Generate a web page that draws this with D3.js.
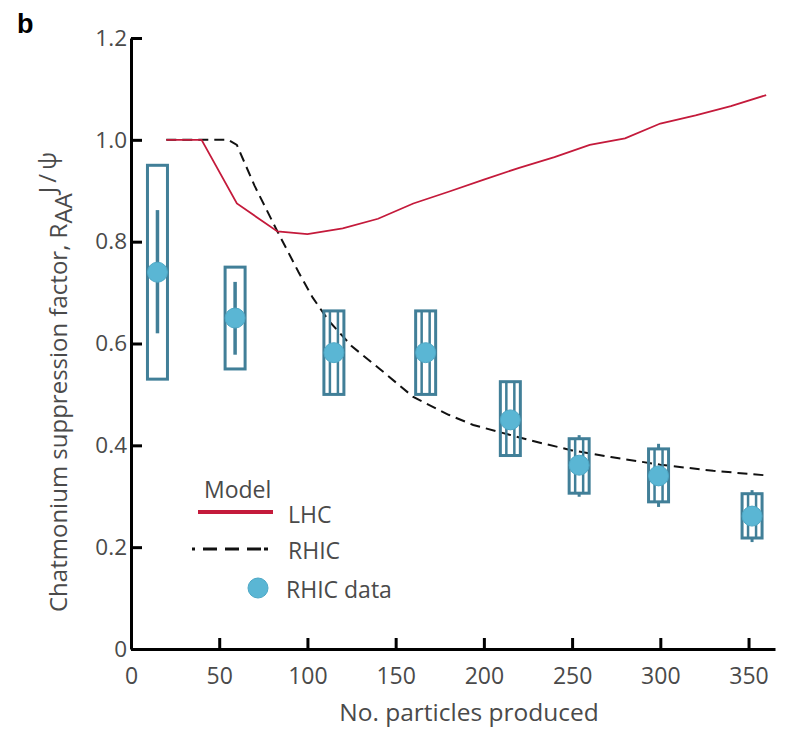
<!DOCTYPE html>
<html>
<head>
<meta charset="utf-8">
<script src="https://cdn.jsdelivr.net/npm/d3@7"></script>
<style>
  html, body { margin: 0; padding: 0; background: #fff; }
  svg { display: block; }
  text { font-family: "Open Sans", "Noto Sans", sans-serif; fill: #4a4a4a; }
</style>
</head>
<body>
<svg id="chart" width="785" height="729"></svg>
<script>
// ---- Data ----
const xTicks = [0, 50, 100, 150, 200, 250, 300, 350];
const yTicks = [0, 0.2, 0.4, 0.6, 0.8, 1.0, 1.2];
const yTickLabels = ["0", "0.2", "0.4", "0.6", "0.8", "1.0", "1.2"];

// Model curves
const lhcX = [20, 40, 60, 83, 100, 120, 140, 160, 180, 200, 220, 240, 260, 280, 300, 320, 340, 360];
const lhcY = [1.0, 1.0, 0.875, 0.82, 0.815, 0.826, 0.845, 0.875, 0.898, 0.922, 0.945, 0.966, 0.99, 1.003, 1.032, 1.048, 1.066, 1.088];
const rhicX = [20, 55, 60, 70, 83, 95, 103, 112, 125, 141, 160, 180, 194, 210, 226, 250, 272, 300, 330, 360];
const rhicY = [1.0, 1.0, 0.99, 0.91, 0.82, 0.74, 0.69, 0.645, 0.595, 0.55, 0.495, 0.46, 0.44, 0.425, 0.41, 0.39, 0.377, 0.362, 0.35, 0.341];

// RHIC data
const dataX    = [15, 59, 115, 167, 215, 254, 299, 352];
const dataY    = [0.74, 0.65, 0.582, 0.582, 0.45, 0.361, 0.34, 0.261];
const sysLow   = [0.53, 0.55, 0.50, 0.50, 0.38, 0.306, 0.289, 0.218];
const sysHigh  = [0.95, 0.75, 0.664, 0.664, 0.525, 0.413, 0.393, 0.305];
const statLow  = [0.62, 0.578, 0.50, 0.50, 0.38, 0.299, 0.279, 0.21];
const statHigh = [0.862, 0.721, 0.664, 0.664, 0.525, 0.42, 0.403, 0.312];

// ---- Layout ----
const svg = d3.select("#chart");
const x = d3.scaleLinear().domain([0, 365]).range([131, 775]);
const y = d3.scaleLinear().domain([0, 1.2]).range([649, 38]);

const teal = "#417f98";
const dotFill = "#5ab6d4";
const red = "#c41a3b";

// Axes
const xAxis = d3.axisBottom(x).tickValues(xTicks).tickSizeInner(-11).tickSizeOuter(0).tickFormat(d3.format("d")).tickPadding(19);
const gx = svg.append("g").attr("transform", `translate(0,${y(0)})`).call(xAxis);
gx.select(".domain").attr("stroke", "#000").attr("stroke-width", 3);
gx.selectAll(".tick line").attr("stroke", "#000").attr("stroke-width", 3);
gx.selectAll(".tick text").style("font-size", "23px").attr("fill", "#4a4a4a")
  .style("font-family", '"Open Sans", sans-serif');

const yAxis = d3.axisLeft(y).tickValues(yTicks).tickSizeInner(-11).tickSizeOuter(0)
  .tickFormat((d, i) => yTickLabels[i]).tickPadding(4);
const gy = svg.append("g").attr("transform", `translate(${x(0)},0)`).call(yAxis);
gy.select(".domain").attr("stroke", "#000").attr("stroke-width", 3);
gy.selectAll(".tick line").attr("stroke", "#000").attr("stroke-width", 3);
gy.selectAll(".tick text").style("font-size", "22.5px").attr("fill", "#4a4a4a")
  .style("font-family", '"Open Sans", sans-serif');

// Model lines
const line = d3.line().x(d => x(d[0])).y(d => y(d[1]));
svg.append("path")
  .datum(rhicX.map((v, i) => [v, rhicY[i]]))
  .attr("d", line).attr("fill", "none").attr("stroke", "#111")
  .attr("stroke-width", 2).attr("stroke-dasharray", "10,6");
svg.append("path")
  .datum(lhcX.map((v, i) => [v, lhcY[i]]))
  .attr("d", line).attr("fill", "none").attr("stroke", red)
  .attr("stroke-width", 1.8);

// Data points
const pts = dataX.map((v, i) => ({x: v, y: dataY[i], sl: sysLow[i], sh: sysHigh[i], tl: statLow[i], th: statHigh[i]}));
const g = svg.append("g");
pts.forEach(p => {
  const cx = x(p.x);
  const half = 10, inner = 4;
  g.append("rect")
    .attr("x", cx - half).attr("y", y(p.sh))
    .attr("width", 2 * half).attr("height", y(p.sl) - y(p.sh))
    .attr("fill", "none").attr("stroke", teal).attr("stroke-width", 3);
  const covers = p.tl <= p.sl + 1e-9 && p.th >= p.sh - 1e-9;
  if (covers) {
    [-inner, inner].forEach(off => {
      g.append("line").attr("x1", cx + off).attr("x2", cx + off)
        .attr("y1", y(p.sh)).attr("y2", y(p.sl))
        .attr("stroke", teal).attr("stroke-width", 2.5);
    });
    if (p.th > p.sh) g.append("line").attr("x1", cx).attr("x2", cx)
      .attr("y1", y(p.th)).attr("y2", y(p.sh)).attr("stroke", teal).attr("stroke-width", 3);
    if (p.tl < p.sl) g.append("line").attr("x1", cx).attr("x2", cx)
      .attr("y1", y(p.sl)).attr("y2", y(p.tl)).attr("stroke", teal).attr("stroke-width", 3);
  } else {
    g.append("line").attr("x1", cx).attr("x2", cx)
      .attr("y1", y(p.th)).attr("y2", y(p.tl))
      .attr("stroke", teal).attr("stroke-width", 3.5);
  }
  g.append("circle").attr("cx", cx).attr("cy", y(p.y)).attr("r", 10)
    .attr("fill", dotFill).attr("stroke", "#4ea8c6").attr("stroke-width", 1);
});

// Legend
const lg = svg.append("g");
const lfs = "23px";
lg.append("text").attr("x", 204).attr("y", 498).style("font-size", lfs).text("Model");
lg.append("line").attr("x1", 198).attr("x2", 273).attr("y1", 512).attr("y2", 512)
  .attr("stroke", red).attr("stroke-width", 4);
lg.append("text").attr("x", 288).attr("y", 523).style("font-size", lfs).text("LHC");
lg.append("line").attr("x1", 192).attr("x2", 268).attr("y1", 549).attr("y2", 549)
  .attr("stroke", "#111").attr("stroke-width", 3).attr("stroke-dasharray", "3,8,14,8,14,8,14");
lg.append("text").attr("x", 288).attr("y", 559).style("font-size", lfs).text("RHIC");
lg.append("circle").attr("cx", 258).attr("cy", 588).attr("r", 10)
  .attr("fill", dotFill).attr("stroke", "#4ea8c6").attr("stroke-width", 1);
lg.append("text").attr("x", 286).attr("y", 598).style("font-size", lfs).text("RHIC data");

// Axis titles
svg.append("text").attr("x", 469).attr("y", 721).attr("text-anchor", "middle")
  .style("font-size", "24.5px").text("No. particles produced");

const yt = svg.append("text").attr("transform", "translate(67,612) rotate(-90)")
  .attr("text-anchor", "start").style("font-size", "24px");
yt.append("tspan").text("Chatmonium suppression factor, R");
yt.append("tspan").attr("dy", 5).text("AA");
yt.append("tspan").attr("dy", -16).style("letter-spacing", "4px").text("J/\u03C8");

// Panel label
svg.append("text").attr("x", 17).attr("y", 33)
  .style("font-family", '"Liberation Sans", Arial, sans-serif')
  .style("font-weight", "bold").style("font-size", "27px").style("fill", "#000").text("b");
</script>
</body>
</html>
